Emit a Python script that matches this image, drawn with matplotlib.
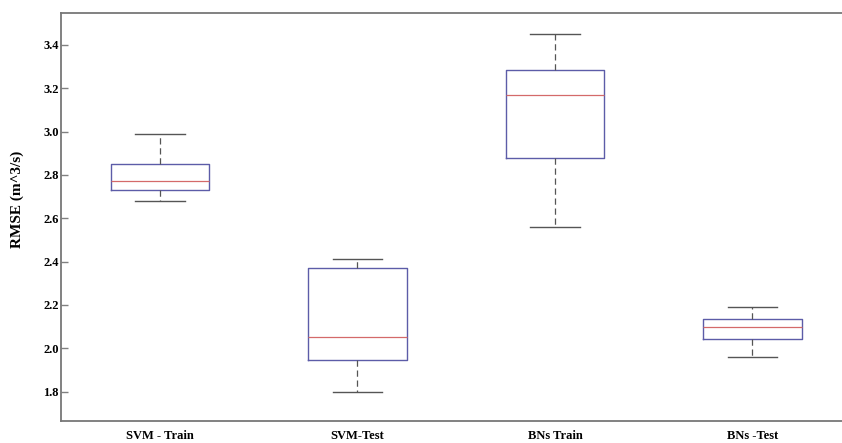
import matplotlib
matplotlib.use("Agg")
import matplotlib.pyplot as plt

# values
labels = ['SVM - Train', 'SVM-Test', 'BNs Train', 'BNs -Test']
whisker_low = [2.68, 1.80, 2.56, 1.96]
q1 = [2.729, 1.946, 2.877, 2.045]
median = [2.771, 2.053, 3.168, 2.099]
q3 = [2.852, 2.371, 3.284, 2.136]
whisker_high = [2.99, 2.411, 3.451, 2.191]
yticks = [1.8, 2.0, 2.2, 2.4, 2.6, 2.8, 3.0, 3.2, 3.4]

plt.rcParams['font.family'] = ['Liberation Serif', 'DejaVu Serif']
plt.rcParams['font.weight'] = 'bold'

fig = plt.figure(figsize=(8.42, 4.43), dpi=100)
ax = fig.add_axes([0.0728, 0.049, 0.938, 0.921])

stats = []
for i in range(len(labels)):
    stats.append({'label': labels[i], 'whislo': whisker_low[i], 'q1': q1[i],
                  'med': median[i], 'q3': q3[i], 'whishi': whisker_high[i],
                  'fliers': []})

ax.bxp(stats, positions=[1, 2, 3, 4], widths=0.5, showfliers=False,
       capwidths=0.25,
       boxprops=dict(color='#5c5ca8', linewidth=1.0),
       medianprops=dict(color='#d46a6a', linewidth=0.9),
       whiskerprops=dict(color='#555555', linewidth=0.9, linestyle=(0, (5, 3))),
       capprops=dict(color='#555555', linewidth=1.0))

ax.set_xlim(0.5, 4.5)
ax.set_ylim(1.663, 3.546)
ax.set_yticks(yticks)
ax.set_yticklabels(['%.1f' % v for v in yticks])
ax.tick_params(axis='y', direction='in', length=5, width=1, color='#808080',
               pad=2, labelsize=9)
ax.tick_params(axis='x', length=0, pad=6.5, labelsize=9)
for s in ax.spines.values():
    s.set_color('#777777')
    s.set_linewidth(1.3)

ax.set_ylabel('RMSE (m^3/s)', fontsize=11, fontweight='bold')
ax.yaxis.set_label_coords(-0.047, 0.545)

fig.savefig('out.png', dpi=100)
